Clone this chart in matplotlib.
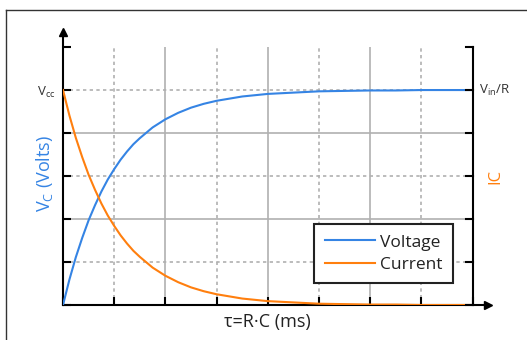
import matplotlib.pyplot as plt
from matplotlib.lines import Line2D

plt.rcParams['font.family'] = ['Open Sans', 'DejaVu Sans']
plt.rcParams['mathtext.fontset'] = 'custom'
plt.rcParams['mathtext.rm'] = 'Open Sans'
plt.rcParams['mathtext.it'] = 'Open Sans'

# tiempo en unidades de tau
t = [0, 0.125, 0.25, 0.375, 0.5, 0.625, 0.75, 0.875, 1, 1.125, 1.25, 1.375,
     1.5, 1.75, 2, 2.25, 2.5, 2.75, 3, 3.5, 4, 4.5, 5, 5.5, 6, 6.5, 7, 7.5, 8]
# tension en el capacitor (Vcc = 5 divisiones)
voltaje = [0, 0.59, 1.11, 1.56, 1.97, 2.32, 2.64, 2.92, 3.16, 3.38, 3.57,
           3.74, 3.88, 4.13, 4.32, 4.47, 4.59, 4.68, 4.75, 4.85, 4.91, 4.94,
           4.97, 4.98, 4.99, 4.99, 5.0, 5.0, 5.0]
# corriente (Vin/R = 5 divisiones)
corriente = [5, 4.41, 3.89, 3.44, 3.03, 2.68, 2.36, 2.08, 1.84, 1.62, 1.43,
             1.26, 1.12, 0.87, 0.68, 0.53, 0.41, 0.32, 0.25, 0.15, 0.09, 0.06,
             0.03, 0.02, 0.01, 0.01, 0.0, 0.0, 0.0]

azul = '#3584e4'
naranja = '#ff7f0e'
gris = '#b0b0b0'

fig = plt.figure(figsize=(5.27, 3.40), dpi=100)
ax = fig.add_axes([63/527, 1-305/340, (488-63)/527, (305-32)/340])

ax.plot(t, voltaje, color=azul, lw=1.5, label='Voltage', zorder=3)
ax.plot(t, corriente, color=naranja, lw=1.5, label='Current', zorder=3)

ax.set_xlim(0, 8.3)
ax.set_ylim(0, 6.35)

# grilla: solida en pares, punteada en impares
for i in range(1, 8):
    ls = '-' if i % 2 == 0 else (0, (2, 2))
    ax.vlines(i, 0, 6, color=gris, lw=1.2, ls=ls, zorder=1)
for j in range(1, 6):
    ls = '-' if j % 2 == 0 else (0, (2, 2))
    ax.hlines(j, 0, 8, color=gris, lw=1.2, ls=ls, zorder=1)

ax.spines['top'].set_visible(False)
ax.spines['right'].set_visible(False)
for s in ['left', 'bottom']:
    ax.spines[s].set_linewidth(1.5)
# eje derecho en x=8
ax.plot([8, 8], [0, 6], color='black', lw=1.5, clip_on=False, zorder=4)

ax.set_xticks(range(0, 9))
ax.set_xticklabels([])
ax.set_yticks(range(0, 7))
ax.set_yticklabels(['', '', '', '', '', 'V$_{\\mathrm{cc}}$', ''], fontsize=9.5,
                   color='#333333')
ax.tick_params(direction='in', length=6, width=1.5, color='black', pad=5)

ax.text(8.13, 5, 'V$_{\\mathrm{in}}$/R', fontsize=9.5, va='center', ha='left',
        color='#333333')
for j in range(0, 7):
    ax.plot([7.88, 8], [j, j], color='black', lw=1.5, clip_on=False, zorder=4)

# flechas de los ejes
ax.plot(0, 1, '^', color='black', markersize=6, transform=ax.get_xaxis_transform(),
        clip_on=False)
ax.plot(1, 0, '>', color='black', markersize=6, transform=ax.get_yaxis_transform(),
        clip_on=False)

ax.text(-0.36, 3.05, 'V$_{\\mathrm{C}}$ (Volts)', color=azul, fontsize=13,
        rotation=90, va='center', ha='center')
ax.text(8.45, 3, 'IC', color=naranja, fontsize=12, rotation=90,
        va='center', ha='center')
ax.text(4, -0.4, 'τ=R·C (ms)', fontsize=13, va='center', ha='center',
        color='#222222')

leg = ax.legend(loc='lower right', bbox_to_anchor=(0.918, 0.08), fontsize=12.5,
                fancybox=False, framealpha=1, edgecolor='#222222',
                handlelength=2.9, borderpad=0.6, labelspacing=0.35,
                handletextpad=0.3, borderaxespad=0)
leg.get_frame().set_linewidth(1.5)
for txt in leg.get_texts():
    txt.set_color('#222222')

# marco de la figura
fig.add_artist(Line2D([6/527, 6/527], [0, 1-10/340], color='#333333', lw=1))
fig.add_artist(Line2D([6/527, 1], [1-10/340, 1-10/340], color='#333333', lw=1))

fig.savefig('out.png', dpi=100)
